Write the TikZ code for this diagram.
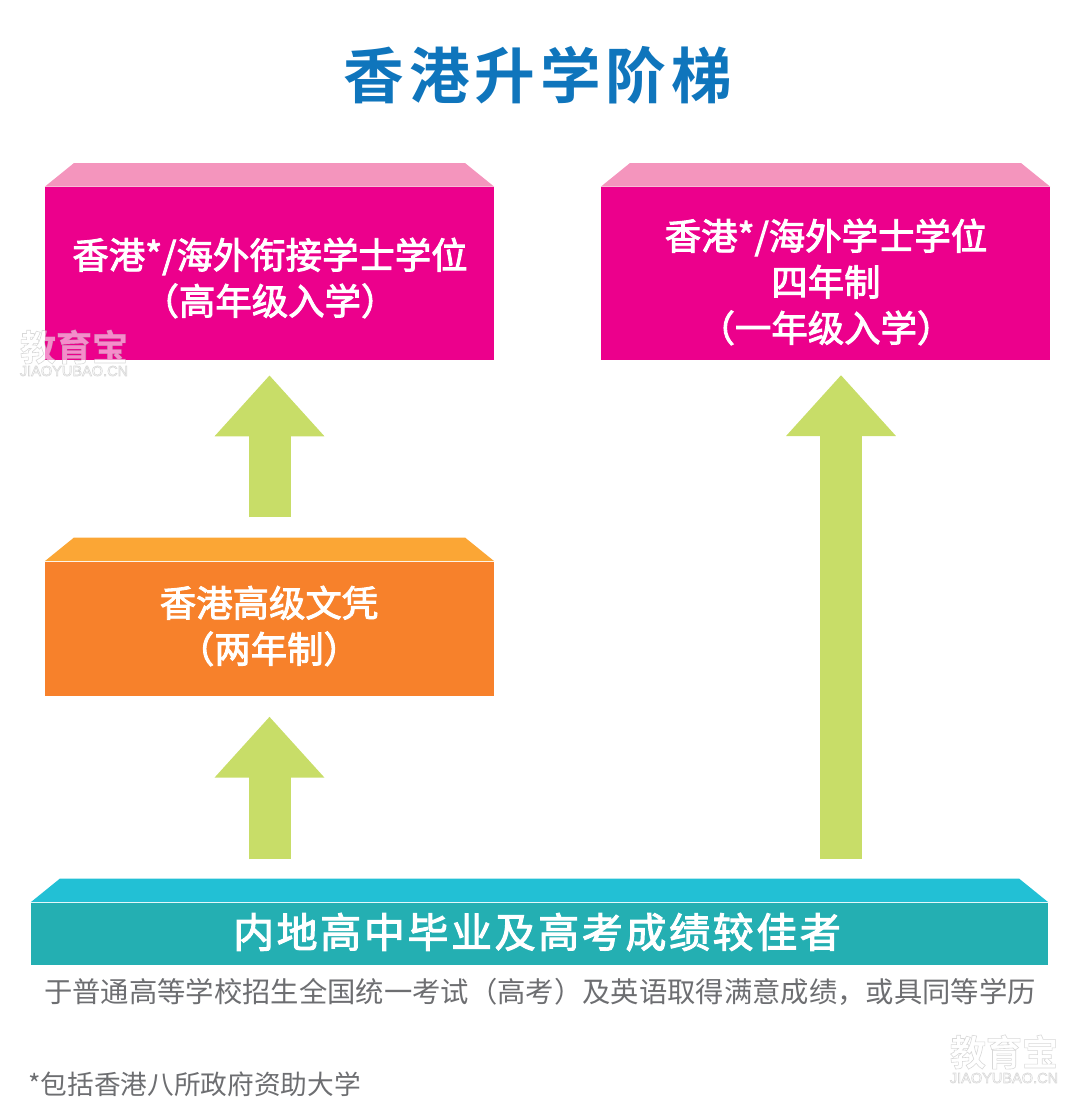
\documentclass[tikz,border=0pt]{standalone}
\usepackage{fontspec}
\usetikzlibrary{arrows.meta,calc}
\setmainfont{Noto Sans CJK SC}
\newfontfamily\titlefont[LetterSpace=8]{Noto Sans CJK SC Bold}
\newfontfamily\boxfont[FakeBold=2.5]{Noto Sans CJK SC}
\newfontfamily\schoolfont[LetterSpace=6.5,FakeBold=2.5]{Noto Sans CJK SC}
\newfontfamily\markfont{Noto Sans CJK SC Bold}
\newfontfamily\marklatin{Liberation Sans}
\definecolor{titleblue}{HTML}{0F75BC}
\definecolor{pinkfront}{HTML}{EC008C}
\definecolor{pinkroof}{HTML}{F495BD}
\definecolor{orangefront}{HTML}{F7812B}
\definecolor{orangeroof}{HTML}{FBA635}
\definecolor{tealfront}{HTML}{24AFB2}
\definecolor{tealroof}{HTML}{22C0D5}
\definecolor{arrowgreen}{HTML}{C8DD68}
\definecolor{notegray}{HTML}{6D6E71}
\tikzstyle{front} = [rectangle, inner sep=0pt, minimum height=0.75*#1]
\tikzstyle{boxtext} = [text=white, align=center, font=\boxfont\fontsize{27.3}{34.5}\selectfont, inner sep=0pt]
\tikzstyle{note} = [text=notegray, inner sep=0pt]
\tikzstyle{lift} = [draw=arrowgreen, line width=31.5pt, -{Triangle[length=45.75pt,width=79.5pt,fill=arrowgreen]}]
\tikzstyle{markcn} = [text=white, text opacity=0.55, inner sep=0pt, font=\markfont\fontsize{27}{30}\selectfont]
\tikzstyle{markla} = [text=white, text opacity=0.55, inner sep=0pt, font=\marklatin\fontsize{10.9}{12}\selectfont]
% white letters with a thin grey edge
\newcommand{\outlined}[1]{\special{pdf:code q 2 Tr 0.45 w 0.72 G}#1\special{pdf:code Q}}
% sloped top face above a front rectangle
\newcommand{\roof}[3]{\fill [#1] (#2.north west) -- ++(#3,-23.5) -- ($(#2.north east)+(-#3,-23.5)$) -- (#2.north east) -- cycle;}
\begin{document}
\begin{tikzpicture}[x=0.75pt, y=-0.75pt]
    \useasboundingbox (0,0) rectangle (1080,1107);
    \node (title) [text=titleblue, inner sep=0pt, font=\titlefont\fontsize{45.5}{50}\selectfont] at (538,75) {香港升学阶梯};

    \node (topup) [front=173, fill=pinkfront, minimum width=336.75pt] at (269.5,273.5) {};
    \roof{pinkroof}{topup}{29}
    \node (fouryear) [front=173, fill=pinkfront, minimum width=336.75pt] at (825.5,273.5) {};
    \roof{pinkroof}{fouryear}{29}
    \node (diploma) [front=134.5, fill=orangefront, minimum width=336.75pt] at (269.5,628.75) {};
    \roof{orangeroof}{diploma}{29}
    \node (school) [front=62, fill=tealfront, minimum width=762.75pt] at (539.5,933.5) {};
    \roof{tealroof}{school}{29}

    \node (topuptext) [boxtext] at (270,278) {香港*/海外衔接学士学位\\（高年级入学）};
    \node (fouryeartext) [boxtext] at (826,282) {香港*/海外学士学位\\四年制\\（一年级入学）};
    \node (diplomatext) [boxtext] at (269,626) {香港高级文凭\\（两年制）};
    \node (schooltext) [text=white, inner sep=0pt, font=\schoolfont\fontsize{30.7}{34}\selectfont] at (537,932) {内地高中毕业及高考成绩较佳者};
    \node (condition) [note, font=\fontsize{21.25}{26}\selectfont] at (540,992) {于普通高等学校招生全国统一考试（高考）及英语取得满意成绩，或具同等学历};
    \node (footnote) [note, anchor=west, font=\fontsize{20}{24}\selectfont] at (28,1084) {*包括香港八所政府资助大学};

    \coordinate (leftfoot) at (269.5,902);
    \coordinate (rightfoot) at (841,902);
    \coordinate (righttip) at (841,360);
    \draw [lift, xshift=-0.75pt, shorten <=33pt, shorten >=11.25pt] (diploma.north) -- (topup.south);
    \draw [lift, xshift=-0.75pt, shorten <=32.25pt, shorten >=15.25pt] (leftfoot) -- (diploma.south);
    \draw [lift, shorten <=32.25pt, shorten >=11.25pt] (rightfoot) -- (righttip);

    \node (markone) [markcn] at (74,347) {\outlined{教育宝}};
    \node (markonela) [markla] at (74,371) {\outlined{JIAOYUBAO.CN}};
    \node (marktwo) [markcn] at (1004,1052) {\outlined{教育宝}};
    \node (marktwola) [markla] at (1004,1078) {\outlined{JIAOYUBAO.CN}};
\end{tikzpicture}
\end{document}
